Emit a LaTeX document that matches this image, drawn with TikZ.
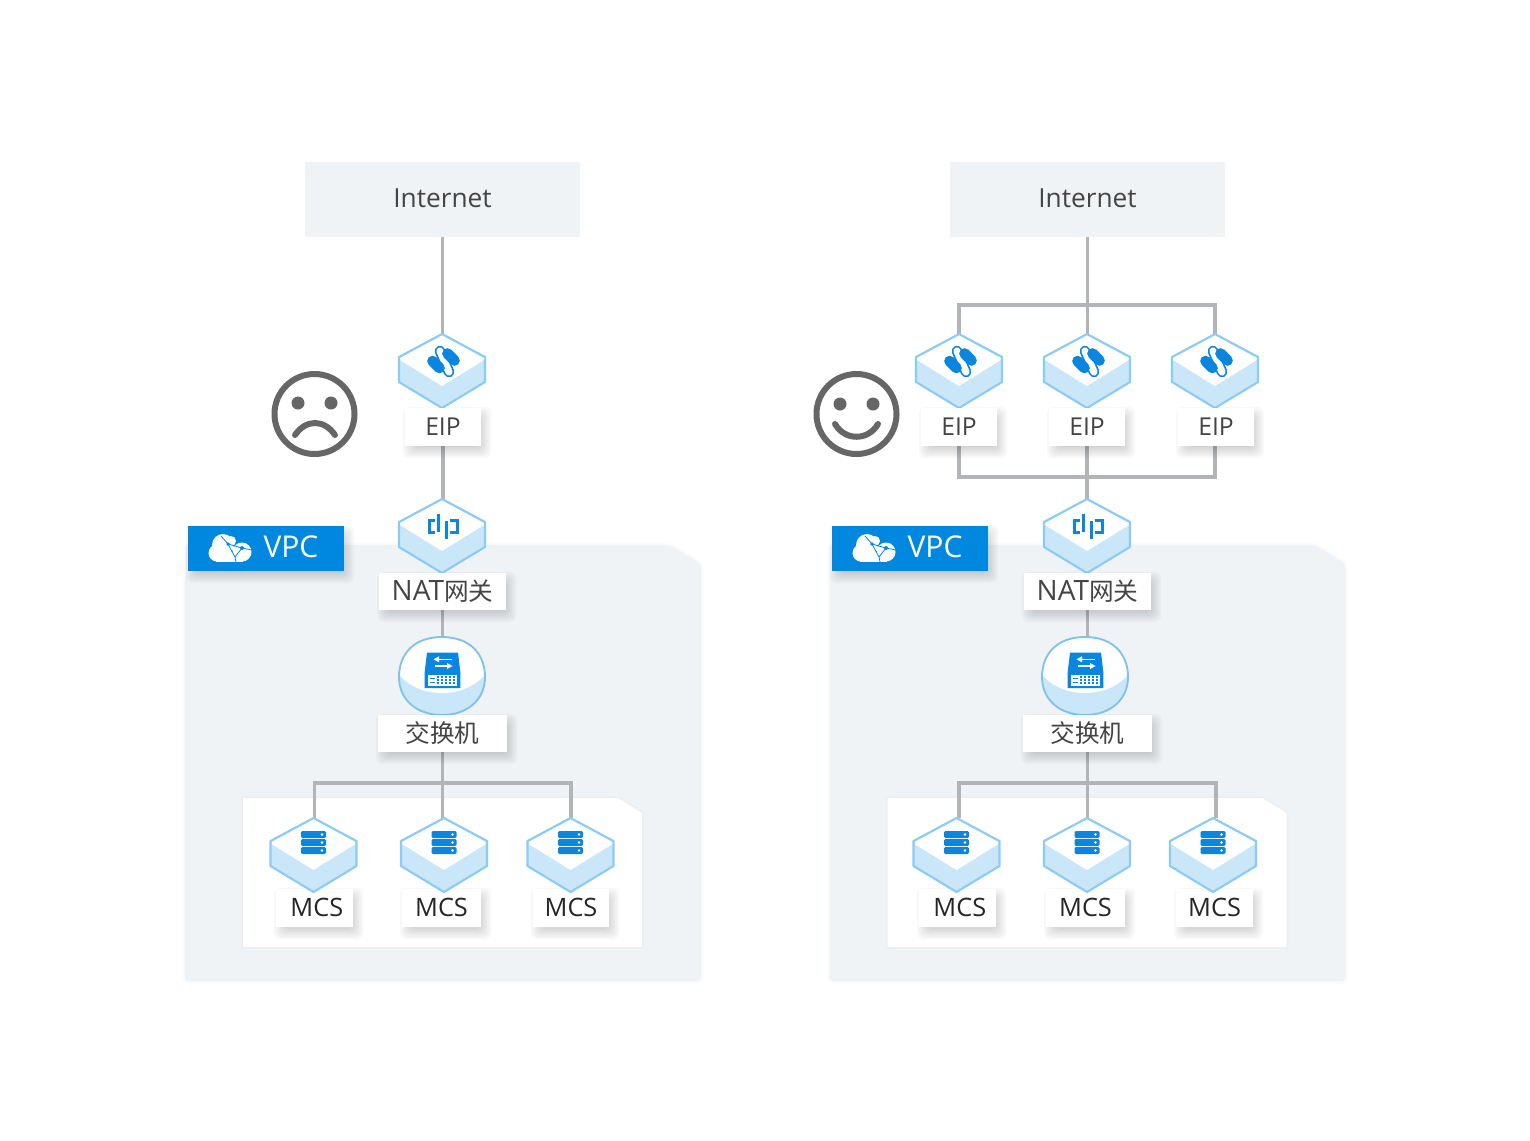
\documentclass[tikz,border=0pt]{standalone}
\usepackage{fontspec}
\setmainfont{Open Sans}
\newfontfamily\cjk{Noto Sans CJK SC}
\definecolor{panelc}{HTML}{F0F3F6}
\definecolor{linec}{HTML}{B2B5B8}
\definecolor{hexedge}{HTML}{8CCBF5}
\definecolor{hexside}{HTML}{C9E7F9}
\definecolor{swedge}{HTML}{7FC4E8}
\definecolor{iconblue}{HTML}{0A85E0}
\definecolor{tagblue}{HTML}{0088E0}
\definecolor{txt}{HTML}{444444}
\definecolor{facec}{HTML}{666666}
\pgfdeclarelayer{panels}
\pgfdeclarelayer{wires}
\pgfsetlayers{panels,wires,main}
\tikzset{
  x=0.75pt,y=-0.75pt,
  panelbox/.style={fill=panelc,draw=none,inner sep=0pt,outer sep=0pt,text=txt,font=\fontsize{19.7}{24}\selectfont},
  lbl/.style={fill=white,draw=none,inner sep=0pt,outer sep=0pt,text=txt,font=\fontsize{18.5}{22}\selectfont},
  mcslbl/.style={lbl,text=black!85,font=\fontsize{19}{22}\selectfont},
  iconbox/.style={draw=none,inner sep=0pt,outer sep=0pt,minimum width=64.5pt,minimum height=55.5pt},
  wire/.style={draw=linec,line width=2.4pt},
  hexline/.style={draw=hexedge,line width=1.6pt,line join=round},
  facestroke/.style={draw=facec,line width=4.5pt,line cap=round},
}
% soft drop shadow of a rectangle
\newcommand{\softsh}[4]{%
  \foreach \d in {-4,-2,0,2,4,6,8}{%
    \fill[black,opacity=0.026,rounded corners=4pt] ({#1+6-\d},{#2+7-\d}) rectangle ({#3+2+\d},{#4+4+\d});
  }%
}
\newcommand{\lblbox}[7][lbl]{%
  \softsh{#3}{#4}{#5}{#6}%
  \node[#1,minimum width={(#5-#3)*0.75pt},minimum height={(#6-#4)*0.75pt}] (#2) at ({(#3+#5)/2},{(#4+#6)/2}) {\raisebox{1.2pt}{#7}};%
}
% hexagonal block: name, centre x, top y, icon
\newcommand{\hexblock}[4]{%
  \node[iconbox] (#1) at (#2,#3+37) {};%
  \begin{scope}[shift={(#2,#3)}]
    \fill[hexside] (0,0)--(43,23)--(43,48)--(0,74)--(-43,48)--(-43,23)--cycle;
    \fill[white] (0,1)--(42,24)--(42,26)--(0,52)--(-42,26)--(-42,24)--cycle;
    \draw[hexline] (0,0)--(43,23)--(43,48)--(0,74)--(-43,48)--(-43,23)--cycle;
    #4
  \end{scope}%
}
\newcommand{\eipicon}{%
  \draw[iconblue,line width=8pt,line cap=round] (-2,17)--(7,38);
  \draw[white,line width=5.4pt,line cap=round] (-2,17)--(7,38);
  \draw[iconblue,line width=8pt,line cap=round] (5.5,19.5)--(12.5,26.5);
  \draw[iconblue,line width=8pt,line cap=round] (-9.5,27)--(-2.5,34);
}
\newcommand{\naticon}{%
  \draw[iconblue,line width=2.2pt] (-6.7,21.3)--(-12.3,21.3)--(-12.3,33.3)--(-6.7,33.3);
  \draw[iconblue,line width=2.2pt] (7.7,21.3)--(15.7,21.3)--(15.7,33.3)--(7.7,33.3);
  \draw[iconblue,line width=2.4pt] (-3.3,14.7)--(-3.3,33.3);
  \draw[iconblue,line width=2.4pt] (4.3,22.3)--(4.3,40);
}
\newcommand{\mcsicon}{%
  \foreach \y in {13,21,29}{%
    \fill[iconblue,rounded corners=1pt] (-12.5,\y)rectangle(12.5,\y+7);
    \fill[white] (8.5,\y+3.5) circle (1.3);
  }%
}
\newcommand{\switchblock}[3]{%
  \node[iconbox] (#1) at (#2,#3+39) {};%
  \begin{scope}[shift={(#2,#3)}]
    \begin{scope}
      \clip (0,0) .. controls (28,0) and (43,17) .. (43,40) .. controls (43,63) and (25,78) .. (0,78) .. controls (-25,78) and (-43,63) .. (-43,40) .. controls (-43,17) and (-28,0) .. (0,0) -- cycle;
      \fill[hexside] (-45,-2) rectangle (45,80);
      \fill[white] (0,18) ellipse (50 and 38);
    \end{scope}
    \draw[draw=swedge,line width=1.4pt] (0,0) .. controls (28,0) and (43,17) .. (43,40) .. controls (43,63) and (25,78) .. (0,78) .. controls (-25,78) and (-43,63) .. (-43,40) .. controls (-43,17) and (-28,0) .. (0,0) -- cycle;
    \fill[iconblue] (-15,15.5)--(16,15.5)--(18.3,35)--(18.3,51)--(-17.3,51)--(-17.3,35)--cycle;
    \draw[white,line width=1.2pt] (10.3,22.3)--(-7.3,22.3);
    \fill[white] (-8.5,22.3)--(-3,19.3)--(-3,25.3)--cycle;
    \draw[white,line width=1.2pt] (-7.3,29)--(9.3,29);
    \fill[white] (10.5,29)--(5,26)--(5,32)--cycle;
    \fill[white] (-14,37.5) rectangle (15,48.5);
    \foreach \xx in {-5,-1,3,7,11}{\foreach \yy in {38.8,42.1,45.4}{\fill[iconblue] (\xx,\yy) rectangle (\xx+2,\yy+1.9);}}
    \draw[iconblue,line width=0.6pt] (-12.5,41)--(-7,41) (-12.5,45)--(-7,45);
  \end{scope}%
}
\newcommand{\vpctag}[3]{%
  \softsh{#2}{526}{#2+156}{571}%
  \node[fill=tagblue,inner sep=0pt,outer sep=0pt,minimum width=117pt,minimum height=33.75pt,text=white] (#1) at (#2+78,548.5) {};%
  \node[text=white,inner sep=0pt,font=\fontsize{22.5}{26}\selectfont] (#3) at (#2+103,547) {VPC};%
  \begin{scope}[shift={(#2-188,0)}]
    \fill[white] (223,545) circle (11) (217,553) circle (8.5) (242,552) circle (9.5);
    \fill[white] (216,552) rectangle (243,561.5);
    \fill[white] (231,541) circle (5);
    \draw[tagblue,line width=0.6pt] (221,536)--(228,544)--(242,548)--(235,557)--(236,562) (228,544)--(235,557) (242,548)--(252,550);
    \fill[tagblue] (228,544) circle (1.8) (242,548) circle (2);
  \end{scope}%
}
\newcommand{\panels}[1]{%
  \begin{scope}[shift={(#1,0)}]
    \foreach \w/\o in {6/0.008,3/0.012}{%
      \draw[black,opacity=\o,line width=\w*0.75pt,rounded corners=3pt,line join=round] (185,545)--(670,545)--(701,564)--(701,981)--(185,981)--cycle;
    }
    \fill[panelc,rounded corners=3pt] (185,545)--(670,545)--(701,564)--(701,981)--(185,981)--cycle;
    \foreach \w/\o in {4/0.01,2/0.012}{%
      \draw[black,opacity=\o,line width=\w*0.75pt] (243,798)--(618,798)--(642,813)--(642,947)--(243,947)--cycle;
    }
    \fill[white] (243,798)--(618,798)--(642,813)--(642,947)--(243,947)--cycle;
  \end{scope}%
}
\begin{document}
\begin{tikzpicture}
\useasboundingbox (0,0) rectangle (1530,1140);
\begin{pgfonlayer}{panels}
  \fill[white] (0,0) rectangle (1530,1140);
  \panels{0}
  \panels{644.5}
\end{pgfonlayer}

% ---------- left
\node[panelbox,minimum width=206.25pt,minimum height=56.25pt] (inetL) at (442.5,199.5) {\raisebox{2.6pt}{Internet}};
\hexblock{eipL}{442}{334}{\eipicon}
\lblbox{eipLb}{405}{408}{481}{446}{EIP}
\vpctag{vpcL}{188}{vpcLt}
\hexblock{natL}{442}{499}{\naticon}
\lblbox{natLb}{379}{573}{506}{610}{{\fontsize{21}{22}\selectfont NAT}{\cjk 网关}}
\switchblock{swL}{442}{637}
\lblbox{swLb}{378}{715}{507}{752}{{\cjk 交换机}}
\lblbox[mcslbl]{mcsLaT}{276}{889}{353}{927}{\hspace{3.5pt}MCS}
\lblbox[mcslbl]{mcsLbT}{402}{889}{481}{927}{MCS}
\lblbox[mcslbl]{mcsLcT}{533}{889}{609}{927}{MCS}
\hexblock{mcsLa}{313.5}{818}{\mcsicon}
\hexblock{mcsLb}{444}{818}{\mcsicon}
\hexblock{mcsLc}{570.5}{818}{\mcsicon}

% ---------- right
\node[panelbox,minimum width=206.25pt,minimum height=56.25pt] (inetR) at (1087.5,199.5) {\raisebox{2.6pt}{Internet}};
\hexblock{eipRa}{959}{334}{\eipicon}
\hexblock{eipRb}{1087}{334}{\eipicon}
\hexblock{eipRc}{1215}{334}{\eipicon}
\lblbox{eipRaT}{921}{408}{997}{446}{EIP}
\lblbox{eipRbT}{1049}{408}{1125}{446}{EIP}
\lblbox{eipRcT}{1178}{408}{1254}{446}{EIP}
\vpctag{vpcR}{832}{vpcRt}
\hexblock{natR}{1087}{499}{\naticon}
\lblbox{natRb}{1024}{573}{1151}{610}{{\fontsize{21}{22}\selectfont NAT}{\cjk 网关}}
\switchblock{swR}{1085}{637}
\lblbox{swRb}{1023}{715}{1152}{752}{{\cjk 交换机}}
\lblbox[mcslbl]{mcsRaT}{919}{889}{996}{927}{\hspace{3.5pt}MCS}
\lblbox[mcslbl]{mcsRbT}{1046}{889}{1125}{927}{MCS}
\lblbox[mcslbl]{mcsRcT}{1176}{889}{1253}{927}{MCS}
\hexblock{mcsRa}{956.5}{818}{\mcsicon}
\hexblock{mcsRb}{1087}{818}{\mcsicon}
\hexblock{mcsRc}{1213}{818}{\mcsicon}

% faces
\draw[facestroke] (314.5,414) circle (40);
\fill[facec] (298,403) circle (6.5) (331,403) circle (6.5);
\draw[facestroke] (295,435) .. controls (306,419) and (324,419) .. (335,435);
\draw[facestroke] (856.5,414) circle (40);
\fill[facec] (840,404) circle (6.5) (873,404) circle (6.5);
\draw[facestroke] (835,424) .. controls (845,441) and (868,441) .. (878,424);

% connectors
\coordinate (busLm) at (442.5,783);
\coordinate (busRt) at (1087,305);
\coordinate (busRm) at (1087,477);
\coordinate (busRb) at (1087,783);
\begin{pgfonlayer}{wires}
  \draw[wire] (inetL.south) -- (inetL.south |- eipL.north);
  \draw[wire] (eipLb.south) -- (eipLb.south |- natL.north);
  \draw[wire] (natLb.south) -- (natLb.south |- swL.north);
  \draw[wire] (swLb.south) -- (swLb.south |- mcsLb.north);
  \draw[wire] ([xshift=0.75pt]mcsLa.north) |- (busLm) -| ([xshift=0.4pt]mcsLc.north);
  \draw[wire] (inetR.south) -- (inetR.south |- eipRb.north);
  \draw[wire] (eipRa.north) |- (busRt) -| (eipRc.north);
  \draw[wire] (eipRa.south) |- (busRm) -| (eipRc.south);
  \draw[wire] (eipRb.south) -- (natR.north);
  \draw[wire] (natRb.south) -- (natRb.south |- swR.north);
  \draw[wire] (swRb.south) -- (swRb.south |- mcsRb.north);
  \draw[wire] ([xshift=1.9pt]mcsRa.north) |- (busRb) -| ([xshift=2.25pt]mcsRc.north);
\end{pgfonlayer}
\end{tikzpicture}
\end{document}
